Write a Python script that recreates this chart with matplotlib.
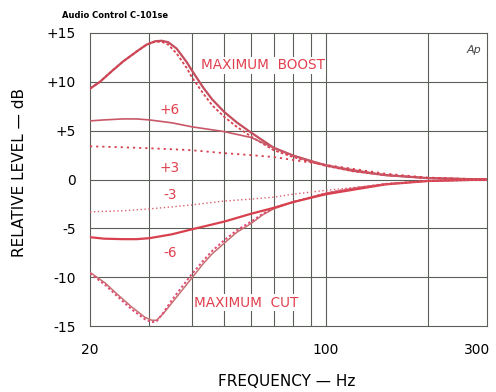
import numpy as np
import matplotlib.pyplot as plt
import matplotlib.transforms as mtransforms

# frequency response curves (Hz, dB)
f_boost = [20, 21.4, 23.4, 25.1, 27.5, 29.4, 31.2, 32.6, 34.1, 36.1, 38.7, 40, 43.3, 46, 50, 54.4, 60, 70, 80, 90, 100, 120, 150, 200, 300]
max_boost = [9.3, 10.0, 11.2, 12.1, 13.1, 13.8, 14.15, 14.2, 14.05, 13.4, 12.0, 11.2, 9.4, 8.2, 6.9, 5.85, 4.8, 3.25, 2.45, 1.9, 1.45, 0.9, 0.45, 0.15, 0.0]
max_boost_dot = [9.3, 10.0, 11.2, 12.1, 13.1, 13.8, 14.1, 14.1, 13.8, 12.9, 11.4, 10.5, 8.8, 7.6, 6.4, 5.4, 4.4, 3.0, 2.3, 1.8, 1.4, 0.85, 0.45, 0.15, 0.0]

f_cut = [20, 22.2, 24.2, 26.6, 29.1, 30.5, 31.5, 33, 35, 40, 43.3, 46, 50, 54.4, 60, 65, 70, 80, 100, 120, 150, 200, 300]
max_cut = [-9.5, -10.6, -11.8, -13.05, -14.1, -14.4, -14.4, -13.7, -12.6, -10.1, -8.6, -7.6, -6.5, -5.4, -4.5, -3.6, -3.0, -2.3, -1.4, -0.9, -0.45, -0.15, 0.0]
max_cut_dot = [-9.6, -10.8, -12.0, -13.3, -14.3, -14.6, -14.5, -13.6, -12.3, -9.7, -8.3, -7.3, -6.2, -5.2, -4.3, -3.5, -2.9, -2.3, -1.4, -0.9, -0.45, -0.15, 0.0]

f_mid = [20, 22, 25, 27.5, 30, 35, 40, 50, 60, 70, 80, 100, 150, 200, 300]
plus6 = [6.0, 6.1, 6.2, 6.2, 6.1, 5.8, 5.4, 4.9, 4.3, 3.25, 2.45, 1.45, 0.45, 0.15, 0.0]
minus6 = [-5.9, -6.05, -6.1, -6.1, -6.0, -5.6, -5.1, -4.3, -3.5, -2.9, -2.3, -1.5, -0.5, -0.15, 0.0]

f_small = [20, 25, 30, 35, 40, 50, 60, 70, 80, 100, 150, 200, 300]
plus3 = [3.4, 3.3, 3.2, 3.1, 3.0, 2.7, 2.5, 2.3, 2.0, 1.5, 0.6, 0.2, 0.0]
minus3 = [-3.3, -3.2, -3.0, -2.8, -2.6, -2.2, -2.0, -1.8, -1.5, -1.1, -0.5, -0.15, 0.0]

yticks = [15, 10, 5, 0, -5, -10, -15]
ylabels = ['+15', '+10', '+5', '0', '-5', '-10', '-15']
xgrid = [30, 40, 50, 60, 70, 80, 90, 100, 200]

red = '#d8404e'
dred = '#c44e5e'
pink = '#e04c78'
gridc = '#5a6058'

fig = plt.figure(figsize=(4.96, 3.92), dpi=100)
ax = fig.add_axes([0.1815, 0.168, 0.8005, 0.748])
ax.set_xscale('log')
ax.set_xlim(20, 300)
ax.set_ylim(-15, 15)

for x in xgrid:
    ax.axvline(x, color=gridc, lw=0.8, zorder=1)
for y in [-10, -5, 0, 5, 10]:
    ax.axhline(y, color=gridc, lw=0.8, zorder=1)

ax.plot(f_boost, max_boost, color=dred, lw=1.6, zorder=3)
ax.plot(f_boost, max_boost_dot, color=red, lw=1.3, ls=(0, (1.5, 1.2)), zorder=3)
ax.plot(f_cut, max_cut, color='#c87070', lw=1.1, zorder=3)
ax.plot(f_cut, max_cut_dot, color=pink, lw=1.4, ls=(0, (1.2, 1.2)), zorder=3)
ax.plot(f_mid, plus6, color='#c85868', lw=1.2, zorder=3)
ax.plot(f_mid, minus6, color=red, lw=1.6, zorder=3)
ax.plot(f_small, plus3, color=red, lw=1.3, ls=(0, (1.2, 2.2)), zorder=3)
ax.plot(f_small, minus3, color='#d86070', lw=1.0, ls=(0, (1, 1.8)), zorder=3)

tk = dict(color='#e0404e', fontsize=9.8, ha='center', va='center', zorder=4)
box = dict(facecolor='white', edgecolor='none', pad=1)
ax.text(65, 11.7, 'MAXIMUM  BOOST', bbox=box, **tk)
ax.text(34.5, 7.1, '+6', **tk)
ax.text(34.5, 1.2, '+3', **tk)
ax.text(34.5, -1.6, '-3', **tk)
ax.text(34.5, -7.5, '-6', **tk)
ax.text(58, -12.6, 'MAXIMUM  CUT', bbox=box, **tk)
ax.text(0.985, 0.96, 'Ap', transform=ax.transAxes, ha='right', va='top',
        fontsize=8, style='italic', color='#444444')

ax.set_yticks(yticks)
ax.set_yticklabels(ylabels, fontsize=10)
ax.set_xticks([20, 100, 300])
ax.set_xticklabels(['20', '100', '300'], fontsize=10)
ax.minorticks_off()
ax.tick_params(length=0, pad=10)
ax.tick_params(axis='x', pad=12)
shift = mtransforms.ScaledTranslation(-0.1, 0, fig.dpi_scale_trans)
lbl = ax.get_xticklabels()[2]
lbl.set_transform(lbl.get_transform() + shift)
for s in ax.spines.values():
    s.set_color(gridc)
    s.set_linewidth(0.8)

fig.text(0.579, 0.028, 'FREQUENCY — Hz', ha='center', va='center', fontsize=11)
fig.text(0.04, 0.561, 'RELATIVE LEVEL — dB', rotation=90, ha='center', va='center', fontsize=11)
fig.text(0.125, 0.96, 'Audio Control C-101se', fontsize=6, fontweight='bold', ha='left', va='center')

fig.savefig('out.png', dpi=100)
